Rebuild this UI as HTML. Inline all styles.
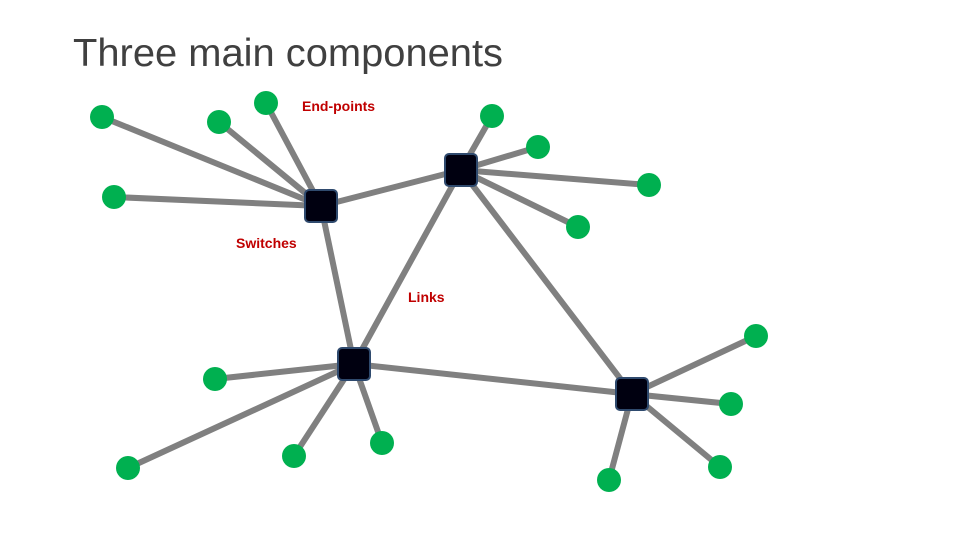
<!DOCTYPE html>
<html><head><meta charset="utf-8"><style>
html,body{margin:0;padding:0;background:#fff;}
svg{display:block;}
</style></head><body>
<svg width="960" height="540" viewBox="0 0 960 540" xmlns="http://www.w3.org/2000/svg">
<text x="73" y="66" font-family="Liberation Sans, sans-serif" font-size="39" fill="#404040" font-weight="300" textLength="430" lengthAdjust="spacingAndGlyphs">Three main components</text>
<g stroke="#808080" stroke-width="6" stroke-linecap="round">
<line x1="321" y1="206" x2="461" y2="170"/>
<line x1="321" y1="206" x2="354" y2="364"/>
<line x1="461" y1="170" x2="354" y2="364"/>
<line x1="461" y1="170" x2="632" y2="394"/>
<line x1="354" y1="364" x2="632" y2="394"/>
<line x1="321" y1="206" x2="102" y2="117"/>
<line x1="321" y1="206" x2="219" y2="122"/>
<line x1="321" y1="206" x2="266" y2="103"/>
<line x1="321" y1="206" x2="114" y2="197"/>
<line x1="461" y1="170" x2="492" y2="116"/>
<line x1="461" y1="170" x2="538" y2="147"/>
<line x1="461" y1="170" x2="649" y2="185"/>
<line x1="461" y1="170" x2="578" y2="227"/>
<line x1="354" y1="364" x2="215" y2="379"/>
<line x1="354" y1="364" x2="128" y2="468"/>
<line x1="354" y1="364" x2="294" y2="456"/>
<line x1="354" y1="364" x2="382" y2="443"/>
<line x1="632" y1="394" x2="756" y2="336"/>
<line x1="632" y1="394" x2="731" y2="404"/>
<line x1="632" y1="394" x2="720" y2="467"/>
<line x1="632" y1="394" x2="609" y2="480"/>
</g>
<g fill="#00b050">
<circle cx="102" cy="117" r="12"/><circle cx="219" cy="122" r="12"/><circle cx="266" cy="103" r="12"/><circle cx="114" cy="197" r="12"/>
<circle cx="492" cy="116" r="12"/><circle cx="538" cy="147" r="12"/><circle cx="649" cy="185" r="12"/><circle cx="578" cy="227" r="12"/>
<circle cx="215" cy="379" r="12"/><circle cx="128" cy="468" r="12"/><circle cx="294" cy="456" r="12"/><circle cx="382" cy="443" r="12"/>
<circle cx="756" cy="336" r="12"/><circle cx="731" cy="404" r="12"/><circle cx="720" cy="467" r="12"/><circle cx="609" cy="480" r="12"/>
</g>
<g fill="#000010" stroke="#2f4a6e" stroke-width="2">
<rect x="305" y="190" width="32" height="32" rx="4"/>
<rect x="445" y="154" width="32" height="32" rx="4"/>
<rect x="338" y="348" width="32" height="32" rx="4"/>
<rect x="616" y="378" width="32" height="32" rx="4"/>
</g>
<g font-family="Liberation Sans, sans-serif" font-size="14" font-weight="bold" fill="#c00000">
<text x="302" y="111">End-points</text>
<text x="236" y="248">Switches</text>
<text x="408" y="302">Links</text>
</g>
</svg>
</body></html>
